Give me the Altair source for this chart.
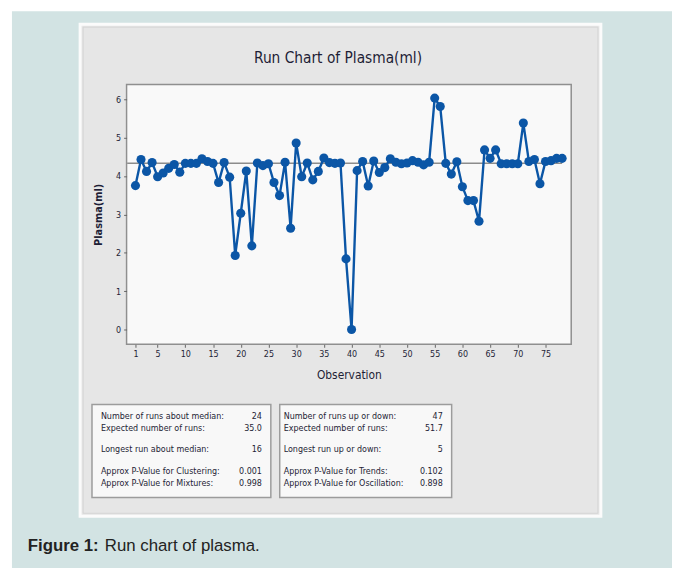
import altair as alt
import pandas as pd

# ---------------- data ----------------
observation = list(range(1, 79))
plasma = [3.75, 4.43, 4.12, 4.35, 3.98, 4.08, 4.20, 4.30, 4.10, 4.33,
          4.33, 4.33, 4.45, 4.38, 4.33, 3.83, 4.35, 3.97, 1.93, 3.03,
          4.13, 2.18, 4.34, 4.27, 4.32, 3.83, 3.49, 4.36, 2.64, 4.86,
          3.98, 4.34, 3.90, 4.12, 4.47, 4.35, 4.33, 4.34, 1.84, 0.00,
          4.14, 4.38, 3.74, 4.39, 4.09, 4.22, 4.45, 4.36, 4.32, 4.34,
          4.40, 4.36, 4.29, 4.36, 6.03, 5.81, 4.33, 4.05, 4.37, 3.72,
          3.36, 3.36, 2.82, 4.68, 4.46, 4.68, 4.32, 4.32, 4.32, 4.32,
          5.38, 4.38, 4.43, 3.80, 4.38, 4.40, 4.46, 4.46]
median_value = 4.33
median_start = -0.5
median_end = 78

x_ticks = [1, 5, 10, 15, 20, 25, 30, 35, 40, 45, 50, 55, 60, 65, 70, 75]
y_ticks = [0, 1, 2, 3, 4, 5, 6]

chart_title = "Run Chart of Plasma(ml)"
x_title = "Observation"
y_title = "Plasma(ml)"

left_labels = ["Number of runs about median:", "Expected number of runs:",
               "Longest run about median:", "Approx P-Value for Clustering:",
               "Approx P-Value for Mixtures:"]
left_values = ["24", "35.0", "16", "0.001", "0.998"]
right_labels = ["Number of runs up or down:", "Expected number of runs:",
                "Longest run up or down:", "Approx P-Value for Trends:",
                "Approx P-Value for Oscillation:"]
right_values = ["47", "51.7", "5", "0.102", "0.898"]

caption_bold = "Figure 1:"
caption_text = "Run chart of plasma."

# ---------------- styling ----------------
FONT = "Liberation Sans Narrow, DejaVu Sans Condensed, Roboto Condensed, Liberation Sans, sans-serif"
CAP_FONT = "Liberation Sans, Arial, sans-serif"
BLUE = "#0b56a6"
TEXT = "#1e1e36"

df = pd.DataFrame({"Observation": observation, "Plasma": plasma})
med_df = pd.DataFrame({"Observation": [median_start], "end": [median_end],
                       "Plasma": [median_value]})
one = pd.DataFrame({"k": [0]})

x_enc = alt.X("Observation:Q", title=x_title,
              scale=alt.Scale(domain=[-0.605, 79.64], nice=False, zero=False),
              axis=alt.Axis(values=x_ticks, domain=False, grid=False, tickSize=3,
                            tickColor="#666666", labelFont=FONT, labelFontSize=9,
                            labelColor=TEXT, labelPadding=2, titleFont=FONT,
                            titleFontSize=12, titleFontWeight="normal",
                            titleColor=TEXT, titlePadding=12, zindex=1,
                            labelFlush=False, labelOverlap=False))
y_enc = alt.Y("Plasma:Q", title=y_title,
              scale=alt.Scale(domain=[-0.386, 6.386], nice=False, zero=False),
              axis=alt.Axis(values=y_ticks, domain=False, grid=False, tickSize=3,
                            tickColor="#666666", labelFont=FONT, labelFontSize=9,
                            labelColor=TEXT, labelPadding=3, titleFont=FONT,
                            titleFontSize=11, titleFontWeight="bold",
                            titleColor=TEXT, titlePadding=12, zindex=1))

teal = alt.Chart(one).mark_rect(fill="#d2e3e3").encode(
    x=alt.value(-116), x2=alt.value(560), y=alt.value(-74), y2=alt.value(490))
frame = alt.Chart(one).mark_rect(fill="#e6e6e6", stroke="#fbfbfb", strokeWidth=3).encode(
    x=alt.value(-47), x2=alt.value(480), y=alt.value(-61), y2=alt.value(437))
frame_line = alt.Chart(one).mark_rect(fill="#e6e6e6", stroke="#d4d4d4", strokeWidth=1).encode(
    x=alt.value(-44), x2=alt.value(477), y=alt.value(-58), y2=alt.value(434))
plot_bg = alt.Chart(one).mark_rect(fill="#f9f9f9", stroke="#8f8f8f", strokeWidth=1.5).encode(
    x=alt.value(0), x2=alt.value(450), y=alt.value(0), y2=alt.value(263))

median_rule = alt.Chart(med_df).mark_rule(color="#8c8c8c", strokeWidth=1.5).encode(
    x=x_enc, x2="end:Q", y=y_enc)
base = alt.Chart(df).encode(x=x_enc, y=y_enc)
line = base.mark_line(color=BLUE, strokeWidth=2.4)
pts = base.mark_point(filled=True, shape="circle", size=85, color=BLUE, opacity=1)

title = alt.Chart(one).mark_text(font=FONT, fontSize=15.5, color=TEXT, align="center",
                                 baseline="middle").encode(
    x=alt.value(214), y=alt.value(-27), text=alt.value(chart_title))

box1 = alt.Chart(one).mark_rect(fill="#f8f8f8", stroke="#9c9c9c", strokeWidth=1.5).encode(
    x=alt.value(-35), x2=alt.value(146), y=alt.value(324), y2=alt.value(418))
box2 = alt.Chart(one).mark_rect(fill="#f8f8f8", stroke="#9c9c9c", strokeWidth=1.5).encode(
    x=alt.value(155), x2=alt.value(329), y=alt.value(324), y2=alt.value(418))

txt_kw = dict(font=FONT, fontSize=9, color=TEXT, baseline="alphabetic", lineHeight=12)
# rows grouped as in the reference: [0,1] close together, [2] alone, [3,4] close together
row_groups = [([0, 1], 339), ([2], 372), ([3, 4], 394)]


def text_layers(labels, values, x_lab, x_val):
    out = []
    for idx, ypos in row_groups:
        out.append(alt.Chart(one).mark_text(align="left", **txt_kw).encode(
            x=alt.value(x_lab), y=alt.value(ypos),
            text=alt.value([labels[i] for i in idx])))
        out.append(alt.Chart(one).mark_text(align="right", **txt_kw).encode(
            x=alt.value(x_val), y=alt.value(ypos),
            text=alt.value([values[i] for i in idx])))
    return out


stat_text = (text_layers(left_labels, left_values, -26, 137)
             + text_layers(right_labels, right_values, 159, 320))

cap1 = alt.Chart(one).mark_text(font=CAP_FONT, fontSize=17, fontWeight="bold",
                                color="#222222", align="left",
                                baseline="alphabetic").encode(
    x=alt.value(-100), y=alt.value(472), text=alt.value(caption_bold))
cap2 = alt.Chart(one).mark_text(font=CAP_FONT, fontSize=17,
                                color="#222222", align="left",
                                baseline="alphabetic").encode(
    x=alt.value(-22), y=alt.value(472), text=alt.value(caption_text))

chart = alt.layer(
    teal, frame, frame_line, plot_bg, median_rule, line, pts, title,
    box1, box2, *stat_text, cap1, cap2
).properties(
    width=450, height=263,
    autosize=alt.AutoSizeParams(type="none"),
    padding={"left": 120, "top": 74, "right": 102, "bottom": 223},
    background="#ffffff",
).configure_view(stroke=None)

chart.save("out.html", embed_options={"renderer": "svg", "actions": False})
